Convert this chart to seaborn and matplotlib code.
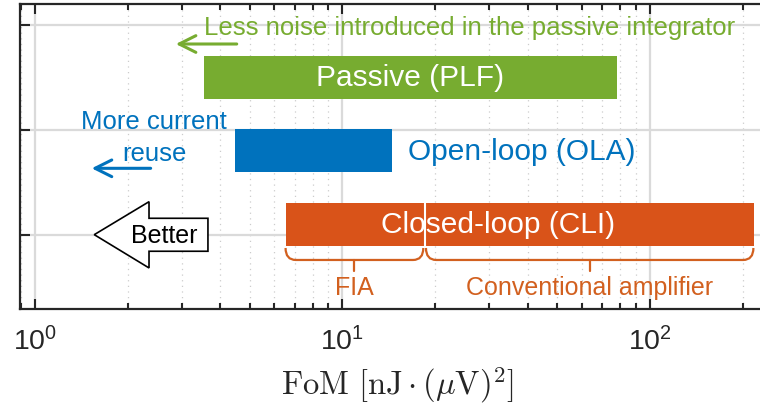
import numpy as np
import matplotlib
matplotlib.use("Agg")
import matplotlib.pyplot as plt
import seaborn as sns
from matplotlib.path import Path
from matplotlib.patches import PathPatch, Polygon
from matplotlib.ticker import LogLocator, NullFormatter

# FoM ranges of the three integrator families (nJ * uV^2)
categories = ["Passive (PLF)", "Open-loop (OLA)", "Closed-loop (CLI)"]
fom_min = [3.55, 4.47, 6.53]
fom_max = [78.0, 14.5, 218.0]
# boundary between FIA and conventional amplifiers inside the closed-loop range
cli_split = 18.5
cli_groups = ["FIA", "Conventional amplifier"]

GREEN = "#77AC30"
BLUE = "#0072BD"
ORANGE = "#D95319"
BRACE = "#D2601F"
DARK = "#262626"

sns.set_theme(style="whitegrid")
plt.rcParams["font.family"] = ["Liberation Sans", "DejaVu Sans"]
plt.rcParams["mathtext.fontset"] = "cm"

fig = plt.figure(figsize=(7.6, 4.1), dpi=100)
ax = fig.add_axes([20 / 760, 1 - 310 / 410, 755 / 760, 305 / 410])
ax.set_facecolor("white")
ax.set_xscale("log")
ax.set_xlim(0.894, 255)
ax.set_ylim(0.292, 3.197)

rows = [2.5, 1.8, 1.1]
bar_h = 0.41
colors = [GREEN, BLUE, ORANGE]

# passive and open-loop ranges
for i in range(2):
    ax.barh(rows[i], fom_max[i] - fom_min[i], left=fom_min[i], height=bar_h,
            color=colors[i], linewidth=0, zorder=2)
# closed-loop range split into FIA and conventional parts
ax.barh(rows[2], cli_split - fom_min[2], left=fom_min[2], height=bar_h,
        color=ORANGE, linewidth=0, zorder=2)
ax.barh(rows[2], fom_max[2] - cli_split, left=cli_split, height=bar_h,
        color=ORANGE, linewidth=0, zorder=2)
ax.plot([cli_split, cli_split], [rows[2] - bar_h / 2, rows[2] + bar_h / 2],
        color="white", lw=1.5, zorder=3)

# labels on / next to bars
ax.text(np.sqrt(fom_min[0] * fom_max[0]), rows[0], categories[0], color="white",
        fontsize=21.5, ha="center", va="center", zorder=4)
ax.text(fom_max[1] * 1.125, rows[1], categories[1], color=BLUE,
        fontsize=21.5, ha="left", va="center", zorder=4)
ax.text(32.0, rows[2], categories[2], color="white",
        fontsize=21.5, ha="center", va="center", zorder=4)


def brace(x0, x1, y_top, y_bot, y_tick, r=1.08):
    verts = [(x0, y_top), (x0, y_bot), (x0 * r, y_bot),
             (x1 / r, y_bot), (x1, y_bot), (x1, y_top)]
    codes = [Path.MOVETO, Path.CURVE3, Path.CURVE3,
             Path.LINETO, Path.CURVE3, Path.CURVE3]
    ax.add_patch(PathPatch(Path(verts, codes), fc="none", ec=BRACE, lw=1.6, zorder=3))
    xm = np.sqrt(x0 * x1)
    ax.plot([xm, xm], [y_bot, y_tick], color=BRACE, lw=1.6, zorder=3)
    return xm


y_top, y_bot, y_tick = 0.873, 0.759, 0.655
xm1 = brace(fom_min[2], cli_split / 1.01, y_top, y_bot, y_tick)
xm2 = brace(cli_split * 1.01, fom_max[2] / 1.005, y_top, y_bot, y_tick)
ax.text(xm1, 0.50, cli_groups[0], color=BRACE, fontsize=18, ha="center", va="center")
ax.text(xm2, 0.50, cli_groups[1], color=BRACE, fontsize=18, ha="center", va="center")

# trend annotations
arrow_style = "->,head_length=1.0,head_width=0.5"
ax.text(fom_min[0], 2.911, "Less noise introduced in the passive integrator",
        color=GREEN, fontsize=18.5, ha="left", va="baseline")
ax.annotate("", xy=(2.87, 2.816), xytext=(4.53, 2.816),
            arrowprops=dict(arrowstyle=arrow_style, color=GREEN, lw=2.2,
                            shrinkA=0, shrinkB=0))
ax.text(2.438, 2.013, "More current", color=BLUE, fontsize=18.5,
        ha="center", va="baseline")
ax.text(2.438, 1.714, "reuse", color=BLUE, fontsize=18.5,
        ha="center", va="baseline")
ax.annotate("", xy=(1.529, 1.632), xytext=(2.378, 1.632),
            arrowprops=dict(arrowstyle=arrow_style, color=BLUE, lw=2.2,
                            shrinkA=0, shrinkB=0))

# "Better" block arrow
arrow_pts = [(1.559, 1.0), (2.349, 1.314), (2.349, 1.156), (3.652, 1.156),
             (3.652, 0.842), (2.349, 0.842), (2.349, 0.683)]
ax.add_patch(Polygon(arrow_pts, closed=True, fc="white", ec="black", lw=1.2, zorder=4))
ax.text(2.64, 1.0, "Better", color="black", fontsize=18, ha="center",
        va="center", zorder=5)

# axes styling
ax.xaxis.set_major_locator(LogLocator(base=10, numticks=10))
ax.xaxis.set_minor_locator(LogLocator(base=10, subs=np.arange(2, 10), numticks=20))
ax.xaxis.set_minor_formatter(NullFormatter())
ax.set_yticks([1, 2, 3])
ax.set_yticklabels([])
ax.set_axisbelow(True)
ax.grid(which="major", axis="both", color="#dadada", lw=1.6, ls="-")
ax.grid(which="minor", axis="x", color="#cccccc", lw=0.9, ls=(0, (1, 3.5)))
ax.tick_params(which="both", direction="in", top=True, bottom=True,
               left=True, right=True, color=DARK, width=1.5,
               labelsize=20.5, labelcolor=DARK, pad=12)
ax.tick_params(which="major", length=7.5)
ax.tick_params(which="minor", length=4.5)
for s in ax.spines.values():
    s.set_color(DARK)
    s.set_linewidth(1.6)

ax.set_xlabel(r"$\mathrm{FoM}\ [\mathrm{nJ}\cdot(\mu\mathrm{V})^2]$",
              fontsize=23.5, color=DARK, labelpad=7)

fig.savefig("out.png", dpi=100, facecolor="white")
